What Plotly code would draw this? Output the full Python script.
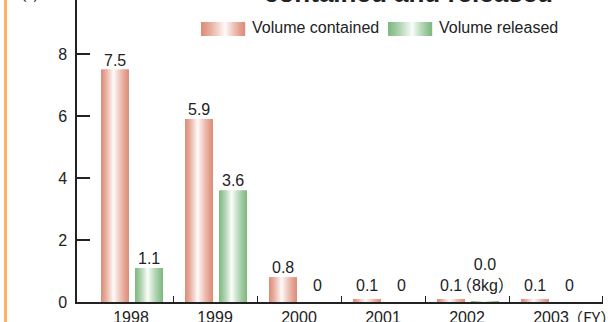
import plotly.graph_objects as go

# ---- data ----
years = ["1998", "1999", "2000", "2001", "2002", "2003"]
contained = [7.5, 5.9, 0.8, 0.1, 0.1, 0.1]          # t
released = [1.1, 3.6, 0.0, 0.0, 0.008, 0.0]         # t (2002: 8 kg)
y_ticks = [0, 2, 4, 6, 8]

# ---- geometry (pixels) ----
FIG_W, FIG_H = 608, 322
L, R, T, B = 77, 603, 0, 302
PW, PH = R - L, B - T
CAT_PX = 84.0                      # width of one fiscal-year slot
X0_PX = 131.0                      # centre of the first slot
PX_PER_T = 31.0                    # vertical scale

x_min = (L - X0_PX) / CAT_PX
x_max = (R - X0_PX) / CAT_PX
y_max = PH / PX_PER_T

BAR_W = 28 / CAT_PX
OFF_CONT = -30 / CAT_PX
OFF_REL = 4 / CAT_PX

SALMON = (222, 141, 120)
GREEN = (128, 185, 130)
FONT = "Liberation Sans, Arial, Noto Sans CJK JP, sans-serif"
TXT = "#222222"


def xp(px):
    return (px - L) / PW


def yp(py):
    return (B - py) / PH


def shade(rgb, t, peak=0.45, power=1.25):
    """Colour of a cylinder-like highlight at relative position t (0..1)."""
    d = (peak - t) / peak if t < peak else (t - peak) / (1 - peak)
    w = max(0.0, 1 - d) ** power
    r, g, b = (round(c + (255 - c) * w * 0.97) for c in rgb)
    return f"rgb({r},{g},{b})"


N = 28
fig = go.Figure()
xs = list(range(len(years)))
for vals, base_off, rgb in ((contained, OFF_CONT, SALMON), (released, OFF_REL, GREEN)):
    for k in range(N):
        t = (k + 0.5) / N
        fig.add_trace(go.Bar(
            x=xs, y=vals,
            offset=base_off + k * BAR_W / N,
            width=BAR_W / N * 1.15 if k < N - 1 else BAR_W / N,
            marker=dict(color=shade(rgb, t), line=dict(width=0)),
            showlegend=False, hoverinfo="skip",
        ))

annotations = []


def value_label(x, v, text):
    # baseline a few px above the bar top, never closer than 11 px to the axis
    lift = max(v * PX_PER_T + 4, 11)
    annotations.append(dict(
        x=x, y=0, xref="x", yref="y", text=text, showarrow=False,
        xanchor="center", yanchor="bottom", yshift=lift - 5,
        font=dict(family=FONT, size=16, color=TXT),
    ))


for i, v in enumerate(contained):
    value_label(i + OFF_CONT + BAR_W / 2, v, f"{v:.1f}")
for i, v in enumerate(released):
    if v == 0:
        txt = "0"
    elif v < 0.05:
        txt = f"{v:.1f}<br>（{v * 1000:.0f}kg）"
    else:
        txt = f"{v:.1f}"
    value_label(i + OFF_REL + BAR_W / 2, v, txt)

# title line (upper part runs off the top edge)
annotations.append(dict(
    x=xp(408.5), y=1, xref="paper", yref="paper", yshift=7,
    text="<b>contained and released</b>", showarrow=False,
    xanchor="center", yanchor="middle",
    font=dict(family=FONT, size=26, color=TXT),
))
# unit of the value axis
annotations.append(dict(
    x=xp(30), y=1, xref="paper", yref="paper", yshift=7,
    text="（t）", showarrow=False, xanchor="center", yanchor="middle",
    font=dict(family="Noto Sans CJK JP", size=16, color=TXT),
))
# unit of the category axis
annotations.append(dict(
    x=xp(565), y=yp(317), xref="paper", yref="paper",
    text="（FY）", showarrow=False, xanchor="left", yanchor="middle",
    font=dict(family="Noto Sans CJK JP", size=16, color=TXT),
))

# legend
shapes = []
legend_items = [("Volume contained", SALMON, 201), ("Volume released", GREEN, 388)]
SW_W, SW_TOP, SW_BOT = 44, 22, 36
for label, rgb, x_left in legend_items:
    for k in range(SW_W):
        t = (k + 0.5) / SW_W
        shapes.append(dict(
            type="rect", xref="paper", yref="paper",
            x0=xp(x_left + k), x1=xp(x_left + k + 1.2),
            y0=yp(SW_BOT), y1=yp(SW_TOP),
            fillcolor=shade(rgb, t, peak=0.55), line=dict(width=0), layer="above",
        ))
    annotations.append(dict(
        x=xp(x_left + SW_W + 5), y=yp(27.8), xref="paper", yref="paper",
        text=label, showarrow=False, xanchor="left", yanchor="middle",
        font=dict(family=FONT, size=16, color=TXT),
    ))

# orange rule on the left edge
shapes.append(dict(
    type="line", xref="paper", yref="paper",
    x0=xp(5.5), x1=xp(5.5), y0=yp(FIG_H), y1=yp(-2),
    line=dict(color="#FDB262", width=3),
))

fig.update_layout(
    width=FIG_W, height=FIG_H,
    margin=dict(l=L, r=FIG_W - R, t=T, b=FIG_H - B, pad=0),
    paper_bgcolor="white", plot_bgcolor="white",
    barmode="overlay", showlegend=False,
    annotations=annotations, shapes=shapes,
    font=dict(family=FONT, size=16, color=TXT),
    xaxis=dict(
        range=[x_min, x_max], tickmode="array", tickvals=xs, ticktext=years,
        ticks="", showgrid=False, zeroline=False, automargin=False,
        showline=True, linecolor="#222222", linewidth=1.5,
        ticklabelstandoff=0,
        minor=dict(tickmode="array",
                   tickvals=[i + 0.5 for i in range(len(years) - 1)] + [x_max - 0.004],
                   ticks="inside", ticklen=6, tickwidth=1.2, tickcolor="#222222",
                   showgrid=False),
        tickfont=dict(family=FONT, size=16, color=TXT),
    ),
    yaxis=dict(
        range=[0, y_max], tickmode="array", tickvals=y_ticks,
        ticks="inside", ticklen=13, tickwidth=1.5, tickcolor="#222222",
        showgrid=False, zeroline=False, automargin=False,
        showline=True, linecolor="#222222", linewidth=1.5,
        ticklabelstandoff=5,
        tickfont=dict(family=FONT, size=16, color=TXT),
    ),
)

fig.write_html("out.html")
